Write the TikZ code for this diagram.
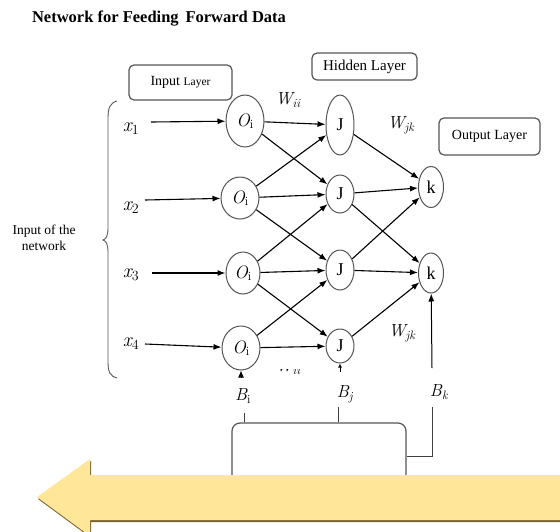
\documentclass[tikz,border=0pt]{standalone}
\usepackage{fontspec}
\setmainfont{Liberation Serif}
\newfontfamily\lmfam{Latin Modern Roman}
\usetikzlibrary{shapes.geometric,arrows.meta}
\definecolor{boxline}{HTML}{555555}
\definecolor{arrowfill}{HTML}{FFE699}
\definecolor{arrowshade}{HTML}{7A6230}
% italic symbol with a lowered index
\newcommand{\sym}[2]{{\lmfam\itshape #1}\textsubscript{\lmfam #2}}
\newcommand{\symi}[2]{{\lmfam\itshape #1}\textsubscript{\lmfam\itshape #2}}
\tikzset{
  neuron/.style={ellipse, draw=boxline, line width=1pt, inner sep=0pt, fill=white,
    font=\fontsize{18}{20}\selectfont},
  layerbox/.style={draw=boxline, line width=1.2pt, rounded corners=5pt, inner sep=0pt,
    font=\fontsize{14}{16}\selectfont},
  link/.style={line width=1.1pt, -{Latex[length=8pt,width=6pt]}},
  biasline/.style={line width=1pt, draw=black!75},
  lbl/.style={inner sep=0pt, font=\fontsize{20}{22}\selectfont},
  wlbl/.style={inner sep=0pt, font=\fontsize{17.5}{19}\selectfont},
}
\begin{document}
\begin{tikzpicture}[x=1pt, y=-1pt]
\useasboundingbox (0,0) rectangle (560,531);

% title
\node[inner sep=0pt, font=\fontsize{16.5}{18}\selectfont\bfseries] (title) at (159,19)
  {Network for Feeding\, Forward Data};

% layer captions
\node[layerbox, minimum width=103pt, minimum height=35pt] (inbox) at (180.5,82.5)
  {Input {\fontsize{11.5}{13}\selectfont Layer}};
\node[layerbox, minimum width=105pt, minimum height=27pt] (hidbox) at (364.5,66.5)
  {\fontsize{15}{17}\selectfont Hidden Layer};
\node[layerbox, minimum width=101pt, minimum height=37pt] (outbox) at (489.5,136.5)
  {Output Layer};

% brace grouping the inputs
\draw[line width=0.9pt, boxline] (117,101) .. controls (110,103) and (108,108) .. (108,118)
  -- (108,228) .. controls (108,236) and (106,239) .. (103,240)
  .. controls (106,241) and (108,244) .. (108,252)
  -- (108,362) .. controls (108,372) and (110,376) .. (117,378);
\node[align=center, inner sep=0pt, font=\fontsize{13.5}{16}\selectfont] (netin) at (44,238)
  {Input of the\\network};

% input values
\node[lbl] (x1) at (131,129) {\sym{x}{1}};
\node[lbl] (x2) at (131,208) {\sym{x}{2}};
\node[lbl] (x3) at (131,275) {\sym{x}{3}};
\node[lbl] (x4) at (131,344) {\sym{x}{4}};
\coordinate (s1) at (151,122);
\coordinate (s2) at (145,200);
\coordinate (s3) at (152,273);
\coordinate (s4) at (145,344);

% input layer
\node[neuron, minimum width=38pt, minimum height=52pt] (O1) at (245,121) {\sym{O}{i}};
\node[neuron, minimum width=38pt, minimum height=42pt] (O2) at (240,198) {\sym{O}{i}};
\node[neuron, minimum width=34pt, minimum height=42pt] (O3) at (243,273) {\sym{O}{i}};
\node[neuron, minimum width=38pt, minimum height=44pt] (O4) at (241,348) {\sym{O}{i}};

% hidden layer
\node[neuron, minimum width=28pt, minimum height=60pt] (J1) at (340,125) {J};
\node[neuron, minimum width=28pt, minimum height=38pt] (J2) at (340,194) {J};
\node[neuron, minimum width=28pt, minimum height=40pt] (J3) at (340,270) {J};
\node[neuron, minimum width=28pt, minimum height=34pt] (J4) at (340,346) {J};

% output layer
\node[neuron, minimum width=25pt, minimum height=41pt] (k1) at (431,187) {k};
\node[neuron, minimum width=25pt, minimum height=40pt] (k2) at (431,273) {k};

% inputs into the first layer
\draw[link] (s1) -- (O1);
\draw[link] (s2) -- (O2);
\draw[link] (s3) -- (O3);
\draw[link] (s4) -- (O4);

% input -> hidden weights
\foreach \a/\b in {O1/J1, O1/J2, O2/J1, O2/J2, O2/J3, O3/J2, O3/J3, O3/J4, O4/J3, O4/J4}
  \draw[link] (\a) -- (\b);

% hidden -> output weights
\foreach \a/\b in {J1/k1, J2/k1, J2/k2, J3/k1, J3/k2, J4/k2}
  \draw[link] (\a) -- (\b);

% weight labels
\node[wlbl] (wii) at (288,100) {\symi{W}{ii}};
\node[wlbl] (wjk1) at (401,125) {\symi{W}{jk}};
\node[wlbl] (wjk2) at (402,333) {\symi{W}{jk}};
\begin{scope}
  \clip (274,369) rectangle (302,382);
  \node[wlbl] (wiicut) at (288,367) {\symi{W}{ii}};
\end{scope}

% biases
\node[wlbl] (Bi) at (243,396) {\sym{B}{i}};
\node[wlbl] (Bj) at (345,394) {\symi{B}{j}};
\node[wlbl] (Bk) at (439,392) {\symi{B}{k}};
\coordinate (bi) at (241,378);
\coordinate (bj) at (340,372);
\coordinate (bk) at (432,368);
\draw[line width=1pt, -{Latex[length=7pt,width=6pt]}] (bi) -- (O4);
\draw[line width=0.8pt, -{Latex[length=4pt,width=4pt]}] (bj) -- (J4);
\draw[line width=1pt, -{Latex[length=8pt,width=6pt]}] (bk) -- (k2);

% bias box feeding the bias terms
\node[draw=boxline, line width=1.2pt, rounded corners=8pt, minimum width=174pt,
  minimum height=67pt, inner sep=0pt] (biasbox) at (319,456.5) {};
\coordinate (ti) at (244,413);
\coordinate (tj) at (338,407);
\coordinate (tk) at (432,407);
\draw[biasline] (ti) -- (ti |- biasbox.north);
\draw[biasline] (tj) -- (tj |- biasbox.north);
\draw[biasline] (tk) |- (biasbox.east);

% backward arrow along the bottom
\fill[arrowshade] (561,477) -- (91,477) -- (91,461) -- (38,499) -- (91,538) -- (91,522) -- (561,522) -- cycle;
\fill[arrowfill] (560,475) -- (90,475) -- (90,459) -- (37,497) -- (90,536) -- (90,520) -- (560,520) -- cycle;
\end{tikzpicture}
\end{document}
